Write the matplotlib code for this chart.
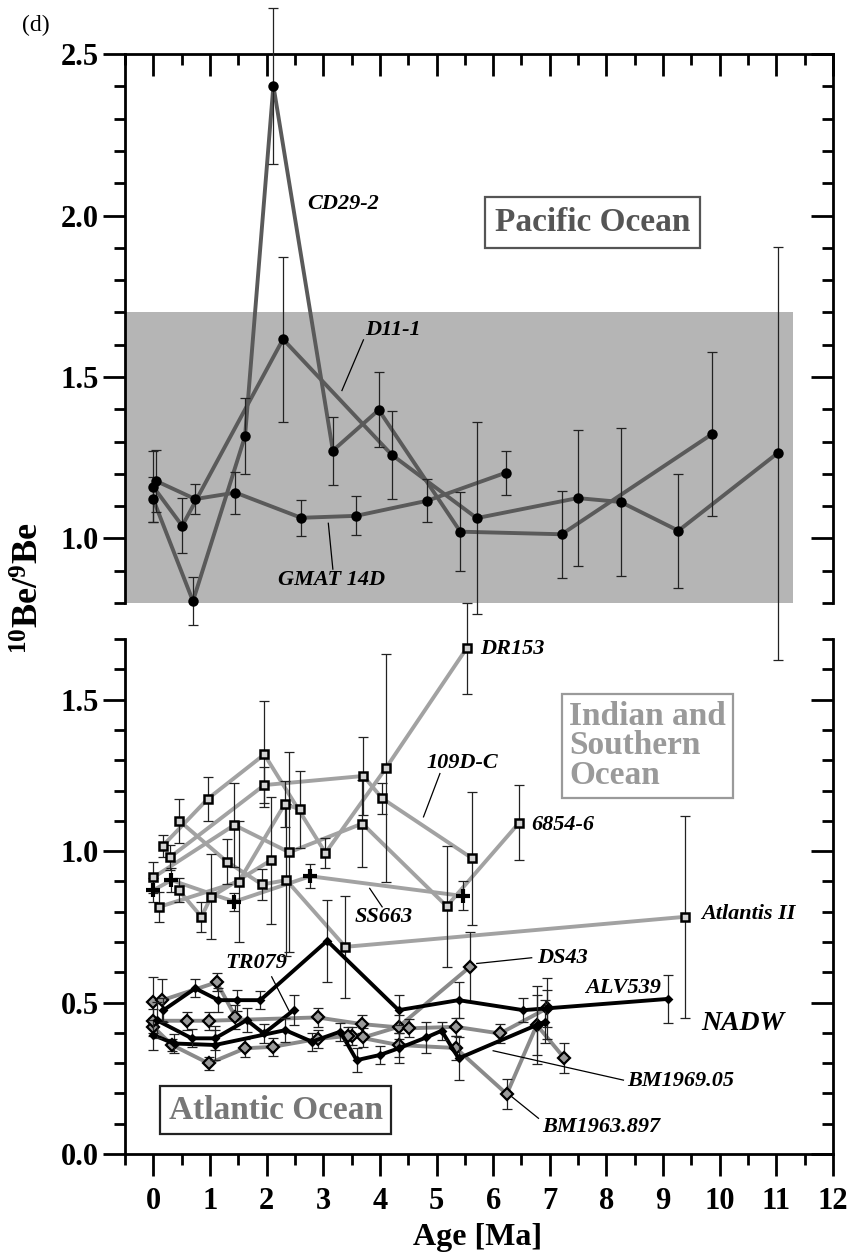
import matplotlib
matplotlib.use("Agg")
import matplotlib.pyplot as plt
from matplotlib.patches import Rectangle
from matplotlib.ticker import MultipleLocator

plt.rcParams["font.family"] = ["Liberation Serif", "DejaVu Serif"]
plt.rcParams["font.weight"] = "bold"
plt.rcParams["mathtext.fontset"] = "custom"
plt.rcParams["mathtext.rm"] = "Liberation Serif:bold"
plt.rcParams["mathtext.bf"] = "Liberation Serif:bold"
plt.rcParams["mathtext.default"] = "rm"

# ---- Pacific Ocean (upper panel) ----
cd29_age = [0.0, 0.70, 1.62, 2.12, 3.17, 3.98, 5.42, 7.21, 9.87]
cd29_val = [1.121, 0.806, 1.317, 2.402, 1.272, 1.398, 1.021, 1.013, 1.324]
cd29_err = [0.07, 0.074, 0.118, 0.242, 0.105, 0.116, 0.123, 0.134, 0.253]

d11_age = [0.0, 0.51, 2.29, 4.21, 5.71, 7.49, 8.25, 9.27, 11.02]
d11_val = [1.160, 1.039, 1.617, 1.259, 1.063, 1.125, 1.113, 1.024, 1.264]
d11_err = [0.11, 0.085, 0.255, 0.136, 0.297, 0.21, 0.23, 0.177, 0.64]

gmat_age = [0.05, 0.74, 1.45, 2.61, 3.58, 4.84, 6.23]
gmat_val = [1.178, 1.122, 1.142, 1.064, 1.070, 1.117, 1.204]
gmat_err = [0.097, 0.047, 0.065, 0.055, 0.06, 0.066, 0.068]

# ---- Indian and Southern Ocean (lower panel) ----
dr153_age = [0.165, 0.965, 1.96, 3.04, 4.11, 5.53]
dr153_val = [1.017, 1.173, 1.319, 0.994, 1.275, 1.669]
dr153_err = [0.036, 0.073, 0.175, 0.05, 0.376, 0.15]

d109_age = [0.29, 1.96, 3.71, 4.04, 5.63]
d109_val = [0.979, 1.218, 1.248, 1.174, 0.976]
d109_err = [0.04, 0.058, 0.129, 0.05, 0.22]

s6854_age = [0.0, 1.43, 2.40, 3.69, 5.18, 6.46]
s6854_val = [0.913, 1.086, 0.996, 1.091, 0.818, 1.094]
s6854_err = [0.05, 0.14, 0.33, 0.145, 0.2, 0.125]

ss663_age = [0.0, 0.32, 1.43, 2.77, 5.46]
ss663_val = [0.871, 0.904, 0.833, 0.917, 0.852]
ss663_err = [0.04, 0.04, 0.03, 0.04, 0.048]

atl2_age = [0.46, 1.30, 1.92, 2.35, 3.39, 9.38]
atl2_val = [1.100, 0.965, 0.890, 0.904, 0.684, 0.783]
atl2_err = [0.073, 0.075, 0.05, 0.25, 0.169, 0.333]

ind6_age = [0.106, 1.51, 2.32, 2.59]
ind6_val = [0.816, 0.899, 1.155, 1.138]
ind6_err = [0.05, 0.2, 0.077, 0.127]

ind7_age = [0.45, 0.85, 1.02, 2.08]
ind7_val = [0.871, 0.783, 0.849, 0.970]
ind7_err = [0.04, 0.05, 0.14, 0.21]

# ---- Atlantic Ocean (lower panel) ----
alv_age = [0.18, 0.74, 1.15, 1.48, 1.89, 3.07, 4.33, 5.39, 6.53, 6.95, 9.08]
alv_val = [0.475, 0.547, 0.508, 0.508, 0.508, 0.704, 0.475, 0.508, 0.475, 0.481, 0.512]
alv_err = [0.04, 0.03, 0.04, 0.035, 0.03, 0.135, 0.05, 0.06, 0.04, 0.1, 0.08]

tr079_age = [0.06, 0.68, 1.09, 1.65, 1.95, 2.48]
tr079_val = [0.442, 0.382, 0.382, 0.442, 0.398, 0.475]
tr079_err = [0.06, 0.03, 0.04, 0.04, 0.03, 0.05]

bm69_age = [0.0, 0.36, 1.09, 2.33, 2.80, 3.30, 3.59, 4.00, 4.33, 4.82, 5.09, 5.39, 6.77, 6.92]
bm69_val = [0.393, 0.365, 0.360, 0.409, 0.371, 0.404, 0.310, 0.327, 0.349, 0.385, 0.407, 0.316, 0.426, 0.437]
bm69_err = [0.05, 0.03, 0.05, 0.04, 0.03, 0.03, 0.04, 0.03, 0.05, 0.05, 0.03, 0.07, 0.13, 0.07]

atg1_age = [0.0, 0.16, 1.12, 1.45]
atg1_val = [0.503, 0.508, 0.567, 0.453]
atg1_err = [0.08, 0.07, 0.03, 0.04]

atg2_age = [0.0, 0.59, 0.98, 2.90, 3.68, 4.52, 5.34, 6.12, 6.95]
atg2_val = [0.44, 0.440, 0.440, 0.451, 0.429, 0.415, 0.420, 0.398, 0.481]
atg2_err = [0.04, 0.03, 0.03, 0.03, 0.03, 0.03, 0.03, 0.03, 0.06]

ds43_age = [0.0, 0.33, 0.98, 1.62, 2.11, 2.90, 3.44, 3.71, 4.33, 5.59]
ds43_val = [0.42, 0.360, 0.299, 0.349, 0.354, 0.38, 0.39, 0.385, 0.42, 0.618]
ds43_err = [0.03, 0.02, 0.02, 0.03, 0.03, 0.03, 0.03, 0.03, 0.04, 0.115]

bm63_age = [3.50, 4.33, 5.34, 6.24, 6.77, 7.25]
bm63_val = [0.39, 0.36, 0.35, 0.198, 0.426, 0.318]
bm63_err = [0.03, 0.04, 0.04, 0.05, 0.1, 0.05]

PAC_LINE = "#5a5a5a"
IND_LINE = "#a2a2a2"
ATL_GRAY = "#8a8a8a"
SHADE = "#b5b5b5"


def series(ax, x, y, err, color, marker, ms, mfc="black", mec="black",
           mew=1.5, lw=2.8, z=3):
    eb = ax.errorbar(x, y, yerr=err, fmt="none", ecolor="#222222",
                     elinewidth=0.9, capsize=3.6, capthick=0.9, zorder=z + 1)
    for art in eb.get_children():
        art.set_clip_on(False)
    ax.plot(x, y, color=color, lw=lw, zorder=z, clip_on=False)
    ax.plot(x, y, ls="none", marker=marker, ms=ms, mfc=mfc, mec=mec,
            mew=mew, zorder=z + 2, clip_on=False)


def style_axes(ax, ylo, yhi, upper):
    ax.set_xlim(-0.5, 12)
    ax.set_ylim(ylo, yhi)
    ax.patch.set_facecolor("none")
    ax.xaxis.set_major_locator(MultipleLocator(1))
    ax.xaxis.set_minor_locator(MultipleLocator(0.5))
    ax.yaxis.set_major_locator(MultipleLocator(0.5))
    ax.yaxis.set_minor_locator(MultipleLocator(0.1))
    for s in ax.spines.values():
        s.set_linewidth(2)
    ax.spines["right"].set_visible(False)
    ax.tick_params(axis="y", which="both", direction="out", left=True,
                   right=False, width=2, labelsize=22, pad=3)
    ax.tick_params(axis="y", which="major", length=16)
    ax.tick_params(axis="y", which="minor", length=8)
    sec = ax.secondary_yaxis("right")
    sec.yaxis.set_major_locator(MultipleLocator(0.5))
    sec.yaxis.set_minor_locator(MultipleLocator(0.1))
    sec.spines["right"].set_linewidth(2)
    sec.tick_params(axis="y", which="both", direction="in", width=2,
                    labelright=False)
    sec.tick_params(axis="y", which="major", length=16)
    sec.tick_params(axis="y", which="minor", length=8)
    if upper:
        ax.spines["bottom"].set_visible(False)
        ax.xaxis.set_ticks_position("top")
        ax.tick_params(axis="x", which="both", direction="in", top=True,
                       bottom=False, labeltop=False, labelbottom=False, width=2)
    else:
        ax.spines["top"].set_visible(False)
        ax.tick_params(axis="x", which="both", direction="out", top=False,
                       bottom=True, labelsize=22, pad=8, width=2)
    ax.tick_params(axis="x", which="major", length=16)
    ax.tick_params(axis="x", which="minor", length=8)


fig = plt.figure(figsize=(8.49, 12.54), dpi=100)
ax_top = fig.add_axes([0.1472, 0.5191, 0.834, 0.4378])
ax_bot = fig.add_axes([0.1472, 0.0797, 0.834, 0.4107])

# upper panel
ax_top.add_patch(Rectangle((-0.5, 0.8), 11.8, 0.9, color=SHADE, lw=0, zorder=0))
series(ax_top, gmat_age, gmat_val, gmat_err, PAC_LINE, "o", 6)
series(ax_top, d11_age, d11_val, d11_err, PAC_LINE, "o", 6)
series(ax_top, cd29_age, cd29_val, cd29_err, PAC_LINE, "o", 6)
style_axes(ax_top, 0.8, 2.5, True)

lab = dict(fontsize=16, style="italic", weight="bold")
ax_top.text(2.72, 2.036, "CD29-2", ha="left", va="center", **lab)
ax_top.text(3.74, 1.645, "D11-1", ha="left", va="center", **lab)
ax_top.plot([3.71, 3.33], [1.615, 1.458], color="black", lw=0.9, zorder=6)
ax_top.text(3.15, 0.872, "GMAT 14D", ha="center", va="center", **lab)
ax_top.plot([3.17, 3.09], [0.905, 1.047], color="black", lw=0.9, zorder=6)
ax_top.text(7.75, 1.977, "Pacific Ocean", fontsize=24, color="#555555",
            ha="center", va="center",
            bbox=dict(boxstyle="square,pad=0.3", fc="white", ec="#555555", lw=1.6))

# lower panel: Indian and Southern Ocean
sq = dict(mfc="#d2d2d2", mec="black", mew=1.8)
series(ax_bot, ind7_age, ind7_val, ind7_err, IND_LINE, "s", 5.5, **sq)
series(ax_bot, ind6_age, ind6_val, ind6_err, IND_LINE, "s", 5.5, **sq)
series(ax_bot, atl2_age, atl2_val, atl2_err, IND_LINE, "s", 5.5, **sq)
series(ax_bot, s6854_age, s6854_val, s6854_err, IND_LINE, "s", 5.5, **sq)
series(ax_bot, d109_age, d109_val, d109_err, IND_LINE, "s", 5.5, **sq)
series(ax_bot, dr153_age, dr153_val, dr153_err, IND_LINE, "s", 5.5, **sq)
series(ax_bot, ss663_age, ss663_val, ss663_err, IND_LINE, "+", 10,
       mfc="black", mec="black", mew=3)

# lower panel: Atlantic Ocean
dm = dict(mfc="#9a9a9a", mec="black", mew=1.6)
series(ax_bot, bm63_age, bm63_val, bm63_err, ATL_GRAY, "D", 6, **dm)
series(ax_bot, ds43_age, ds43_val, ds43_err, ATL_GRAY, "D", 6, **dm)
series(ax_bot, atg2_age, atg2_val, atg2_err, ATL_GRAY, "D", 6, **dm)
series(ax_bot, atg1_age, atg1_val, atg1_err, ATL_GRAY, "D", 6, **dm)
series(ax_bot, bm69_age, bm69_val, bm69_err, "black", "D", 3.5, z=7)
series(ax_bot, tr079_age, tr079_val, tr079_err, "black", "D", 3.5, z=7)
series(ax_bot, alv_age, alv_val, alv_err, "black", "D", 3.5, z=7)
style_axes(ax_bot, 0.0, 1.7, False)

ax_bot.text(5.77, 1.667, "DR153", ha="left", va="center", **lab)
ax_bot.text(4.83, 1.29, "109D-C", ha="left", va="center", **lab)
ax_bot.plot([5.06, 4.77], [1.256, 1.113], color="black", lw=0.9, zorder=9)
ax_bot.text(6.68, 1.086, "6854-6", ha="left", va="center", **lab)
ax_bot.text(3.56, 0.783, "SS663", ha="left", va="center", **lab)
ax_bot.plot([4.04, 3.82], [0.816, 0.877], color="black", lw=0.9, zorder=9)
ax_bot.text(9.68, 0.792, "Atlantis II", ha="left", va="center", **lab)
ax_bot.text(1.27, 0.630, "TR079", ha="left", va="center", **lab)
ax_bot.plot([2.09, 2.42], [0.585, 0.464], color="black", lw=0.9, zorder=9)
ax_bot.text(6.78, 0.647, "DS43", ha="left", va="center", **lab)
ax_bot.plot([6.68, 5.71], [0.648, 0.629], color="black", lw=0.9, zorder=9)
ax_bot.text(7.62, 0.548, "ALV539", ha="left", va="center", **lab)
ax_bot.text(9.68, 0.432, "NADW", ha="left", va="center", fontsize=20,
            style="italic", weight="bold")
ax_bot.text(8.36, 0.241, "BM1969.05", ha="left", va="center", **lab)
ax_bot.plot([8.30, 6.00], [0.244, 0.341], color="black", lw=0.9, zorder=9)
ax_bot.text(6.86, 0.089, "BM1963.897", ha="left", va="center", **lab)
ax_bot.plot([6.80, 6.33], [0.118, 0.189], color="black", lw=0.9, zorder=9)

ax_bot.text(7.34, 1.347, "Indian and\nSouthern\nOcean", fontsize=24,
            color="#9a9a9a", ha="left", va="center", linespacing=0.95,
            bbox=dict(boxstyle="square,pad=0.2", fc="white", ec="#9a9a9a", lw=1.6))
ax_bot.text(2.16, 0.145, "Atlantic Ocean", fontsize=24, color="#777777",
            ha="center", va="center",
            bbox=dict(boxstyle="square,pad=0.25", fc="white", ec="#222222", lw=1.6))

fig.text(0.036, 1 - 588 / 1254, r"$^{10}$Be/$^{9}$Be", rotation=90,
         fontsize=26, weight="bold", ha="center", va="center")
fig.text(0.563, 1 - 1237 / 1254, "Age [Ma]", fontsize=23, weight="bold",
         ha="center", va="center")
fig.text(22 / 849, 1 - 25 / 1254, "(d)", fontsize=17, weight="normal",
         ha="left", va="center")

fig.savefig("out.png", dpi=100)
